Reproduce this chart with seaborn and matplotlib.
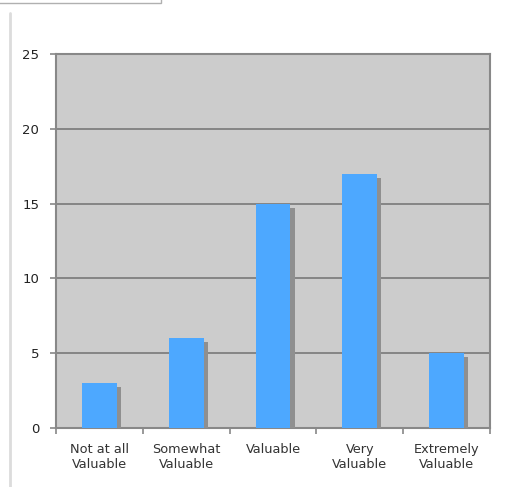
import matplotlib
matplotlib.use("Agg")
import matplotlib.pyplot as plt
import matplotlib.patheffects as pe
from matplotlib.patches import Rectangle
from matplotlib.lines import Line2D
import pandas as pd
import seaborn as sns

categories = ["Not at all\nValuable", "Somewhat\nValuable", "Valuable",
              "Very\nValuable", "Extremely\nValuable"]
counts = [3, 6, 15, 17, 5]
y_ticks = [0, 5, 10, 15, 20, 25]

df = pd.DataFrame({"category": categories, "count": counts})

sns.set_style("white")
plt.rcParams['font.family'] = ['DejaVu Sans']

fig = plt.figure(figsize=(5.16, 4.87), dpi=100)
ax = fig.add_axes([56 / 516, 59 / 487, 434 / 516, 374 / 487])
ax.set_facecolor("#cccccc")

sns.barplot(data=df, x="category", y="count", color="#4da8ff", saturation=1,
            width=0.4, ax=ax, zorder=3)

# drop shadow on the bars
for p in ax.patches:
    p.set_edgecolor("none")
    p.set_path_effects([pe.SimplePatchShadow(offset=(3, -3), shadow_rgbFace="#8f8f8f", alpha=1),
                        pe.Normal()])

ax.set_ylim(0, 25)
ax.set_xlim(-0.5, 4.5)
ax.set_yticks(y_ticks)
ax.set_xticks([x + 0.5 for x in range(-1, 5)], minor=False)
ax.set_xticklabels([])
ax.set_xticks(range(5), minor=True)
ax.set_xticklabels(categories, minor=True, fontsize=9.3, color="#333333", linespacing=1.15)
ax.tick_params(axis="x", which="minor", bottom=False, length=0, pad=11)
ax.tick_params(axis="x", which="major", bottom=True, length=4, width=1.2,
               color="#888888", direction="out")
ax.tick_params(axis="y", left=True, length=4, width=1.2, color="#888888",
               labelsize=9.5, labelcolor="#222222", pad=8)
ax.set_xlabel("")
ax.set_ylabel("")

ax.yaxis.grid(True, color="#7f7f7f", linewidth=1.3, zorder=1)
ax.set_axisbelow(True)
for s in ax.spines.values():
    s.set_visible(True)
    s.set_color("#888888")
    s.set_linewidth(1.5)

# page decorations around the chart
fig.patches.append(Rectangle((-0.01, 1 - 3 / 487), 166 / 516, 0.05, transform=fig.transFigure,
                             facecolor="white", edgecolor="#b0b0b0", linewidth=1))
fig.lines.append(Line2D([10 / 516, 10 / 516], [0, 1 - 13 / 487], transform=fig.transFigure,
                        color="#dcdcdc", linewidth=2))

fig.savefig("out.png", dpi=100)
